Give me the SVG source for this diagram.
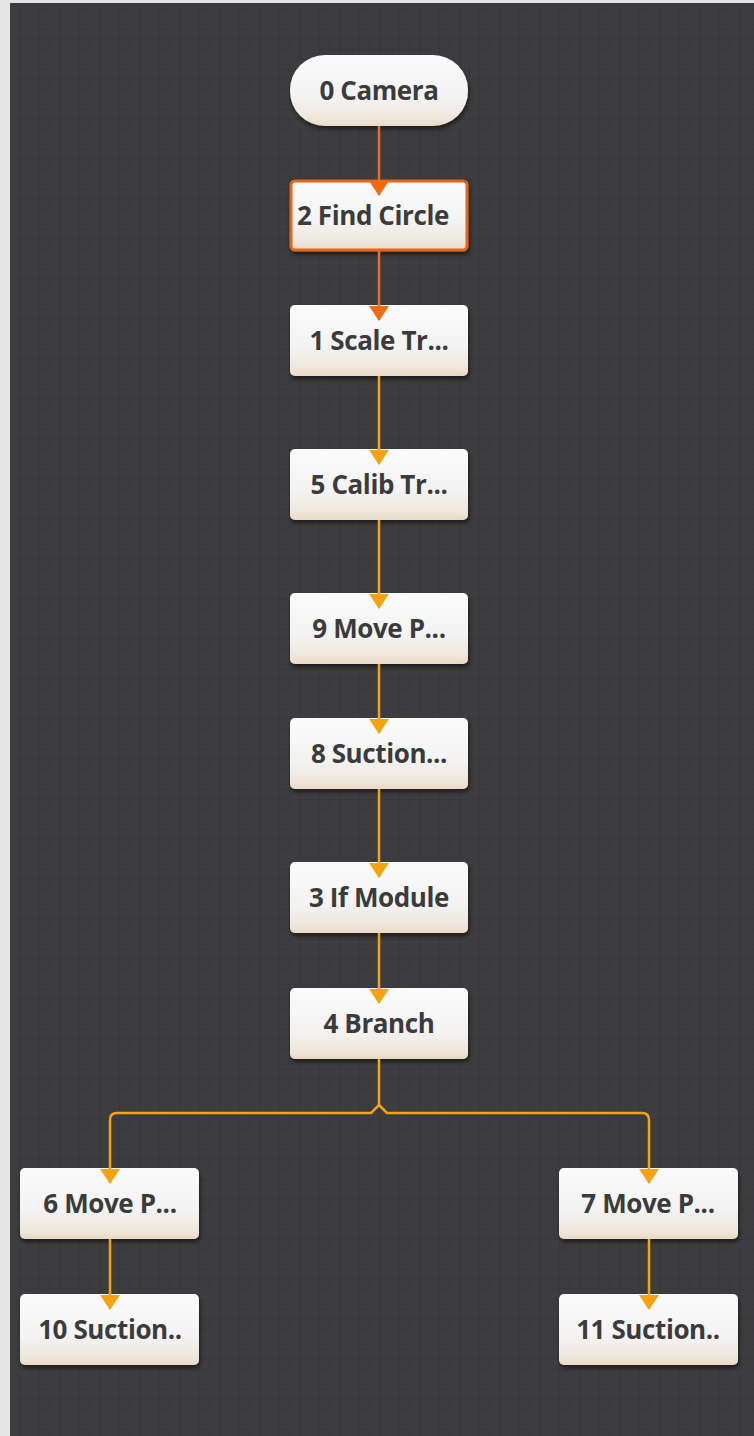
<svg xmlns="http://www.w3.org/2000/svg" width="754" height="1436" viewBox="0 0 754 1436">
<defs>
<pattern id="grid" width="10" height="10" patternUnits="userSpaceOnUse">
<rect width="10" height="10" fill="#3d3d3f"/>
<path d="M10 0V10M0 10H10" stroke="#353537" stroke-width="1"/>
</pattern>
<linearGradient id="ng" x1="0" y1="0" x2="0" y2="1">
<stop offset="0" stop-color="#fbfbfb"/>
<stop offset="0.6" stop-color="#f3f3f3"/>
<stop offset="0.9" stop-color="#efe6da"/>
<stop offset="1" stop-color="#e9d9c4"/>
</linearGradient>
<filter id="sh" x="-10%" y="-10%" width="120%" height="130%">
<feDropShadow dx="1" dy="3" stdDeviation="2" flood-color="#000" flood-opacity="0.55"/>
</filter>
<clipPath id="cf"><rect x="293" y="181" width="172" height="69"/></clipPath>
<marker id="ao" markerWidth="20" markerHeight="15" refX="10" refY="14" markerUnits="userSpaceOnUse" viewBox="0 0 20 15">
<path d="M0 0L20 0L10 15Z" fill="#f06a12"/>
</marker>
<marker id="ay" markerWidth="20" markerHeight="15" refX="10" refY="14" markerUnits="userSpaceOnUse" viewBox="0 0 20 15">
<path d="M0 0L20 0L10 15Z" fill="#f5a310"/>
</marker>
</defs>
<style>
.n{fill:url(#ng);filter:url(#sh)}
.t{font-family:"Open Sans","Noto Sans",sans-serif;font-weight:bold;font-size:26px;fill:#3b3b3b;text-anchor:middle;letter-spacing:-0.4px}
.co{fill:none;stroke:#e8701e;stroke-width:2.5}
.cy{fill:none;stroke:#f0a514;stroke-width:2.5}
</style>
<rect width="754" height="1436" fill="#e4e4e4"/>
<rect x="10" y="3" width="744" height="1433" fill="url(#grid)"/>
<g id="n0"><rect class="n" x="290" y="55" width="178" height="71" rx="35"/><text class="t" x="379" y="100">0 Camera</text></g>
<g id="n2"><rect class="n" x="291" y="181" width="176" height="69" rx="4" stroke="#e2661c" stroke-width="3"/><text class="t" x="297" y="225" style="text-anchor:start" clip-path="url(#cf)">2 Find Circle</text></g>
<g id="n1"><rect class="n" x="290" y="305" width="178" height="71" rx="5"/><text class="t" x="379" y="350">1 Scale Tr...</text></g>
<g id="n5"><rect class="n" x="290" y="449" width="178" height="71" rx="5"/><text class="t" x="379" y="494">5 Calib Tr...</text></g>
<g id="n9"><rect class="n" x="290" y="593" width="178" height="71" rx="5"/><text class="t" x="379" y="638">9 Move P...</text></g>
<g id="n8"><rect class="n" x="290" y="718" width="178" height="71" rx="5"/><text class="t" x="379" y="763">8 Suction...</text></g>
<g id="n3"><rect class="n" x="290" y="862" width="178" height="71" rx="5"/><text class="t" x="379" y="907">3 If Module</text></g>
<g id="n4"><rect class="n" x="290" y="988" width="178" height="71" rx="5"/><text class="t" x="379" y="1033">4 Branch</text></g>
<g id="n6"><rect class="n" x="20" y="1168" width="179" height="71" rx="5"/><text class="t" x="110" y="1213">6 Move P...</text></g>
<g id="n7"><rect class="n" x="559" y="1168" width="179" height="71" rx="5"/><text class="t" x="648" y="1213">7 Move P...</text></g>
<g id="n10"><rect class="n" x="20" y="1294" width="179" height="71" rx="5"/><text class="t" x="110" y="1339">10 Suction..</text></g>
<g id="n11"><rect class="n" x="559" y="1294" width="179" height="71" rx="5"/><text class="t" x="648" y="1339">11 Suction..</text></g>
<g id="connectors">
<path class="co" d="M379 126V195" marker-end="url(#ao)"/>
<path class="co" d="M379 251V320" marker-end="url(#ao)"/>
<path class="cy" d="M379 376V464" marker-end="url(#ay)"/>
<path class="cy" d="M379 520V608" marker-end="url(#ay)"/>
<path class="cy" d="M379 664V733" marker-end="url(#ay)"/>
<path class="cy" d="M379 789V877" marker-end="url(#ay)"/>
<path class="cy" d="M379 933V1003" marker-end="url(#ay)"/>
<path class="cy" d="M379 1059V1105"/>
<path class="cy" d="M379 1105L371 1113H117Q110 1113 110 1120V1183" marker-end="url(#ay)"/>
<path class="cy" d="M379 1105L387 1113H642Q649 1113 649 1120V1183" marker-end="url(#ay)"/>
<path class="cy" d="M110 1239V1309" marker-end="url(#ay)"/>
<path class="cy" d="M649 1239V1309" marker-end="url(#ay)"/>
</g>
</svg>
